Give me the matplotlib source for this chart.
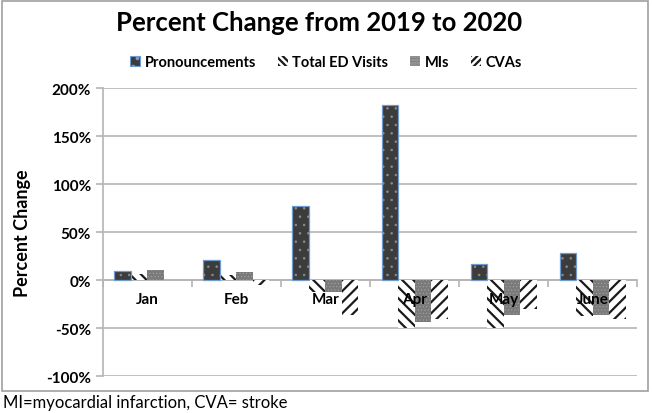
import matplotlib
matplotlib.use('Agg')
import matplotlib.pyplot as plt
from matplotlib.patches import Patch, Rectangle
import numpy as np

# Данные
months = ['Jan', 'Feb', 'Mar', 'Apr', 'May', 'June']
pronouncements = [10, 21, 77, 183, 17, 29]
ed_visits = [7, 6, -12, -50, -50, -37]
mis = [11, 9, -12, -43, -36, -36]
cvas = [0, -5, -36, -40, -30, -40]
yticks = [-100, -50, 0, 50, 100, 150, 200]

plt.rcParams['font.family'] = ['Lato', 'DejaVu Sans']
plt.rcParams['hatch.linewidth'] = 1.6

fig = plt.figure(figsize=(6.52, 4.14), dpi=100)
ax = fig.add_axes([0.1575, 0.0882, 0.820, 0.696])

x = np.arange(len(months))
w = 0.185
grid_c = '#b4b4b4'


def draw_series(offset, vals, fc, hc, hatch, hlw, edge=None):
    with plt.rc_context({'hatch.linewidth': hlw}):
        bars = ax.bar(x + offset * w, vals, w, color=fc, edgecolor=hc,
                      hatch=hatch, linewidth=0, zorder=3)
    for b in bars:
        if hasattr(b, 'set_hatch_linewidth'):
            b.set_hatch_linewidth(hlw)
    if edge:
        ax.bar(x + offset * w, vals, w, fill=False, edgecolor=edge,
               linewidth=0.9, zorder=4)


draw_series(-1.5, pronouncements, '#3c3c3c', '#8a8a8a', '..', 0.6, edge='#6f9bd1')
draw_series(-0.5, ed_visits, 'white', '#1a1a1a', '\\\\\\', 1.6)
draw_series(0.5, mis, '#7a7a7a', '#a5a5a5', '.....', 0.4)
draw_series(1.5, cvas, 'white', '#1a1a1a', '///', 1.6)

ax.set_xlim(-0.5, 5.5)
ax.set_ylim(-100, 200)
ax.set_yticks(yticks)
ax.set_yticklabels([f'{v}%' for v in yticks], fontsize=11, fontweight='bold')
ax.yaxis.grid(True, color=grid_c, linewidth=1.2, zorder=0)
ax.set_axisbelow(True)

ax.set_xticks(np.arange(-0.5, 6.0, 1.0))
ax.set_xticklabels([])
ax.spines['bottom'].set_position(('data', 0))
for s in ['top', 'right']:
    ax.spines[s].set_visible(False)
ax.spines['bottom'].set_color(grid_c)
ax.spines['bottom'].set_linewidth(1.2)
ax.spines['left'].set_color(grid_c)
ax.spines['left'].set_linewidth(1.2)
ax.tick_params(axis='both', colors=grid_c, length=5, width=1.2, labelcolor='black')

for i, m in enumerate(months):
    ax.text(i, -19, m, ha='center', va='center', fontsize=11,
            fontweight='bold', zorder=5)

ax.set_ylabel('Percent Change', fontsize=13, fontweight='bold', labelpad=11)

fig.text(0.49, 0.945, 'Percent Change from 2019 to 2020', ha='center',
         va='center', fontsize=18.5, fontweight='bold')

handles = [
    Patch(facecolor='#3c3c3c', edgecolor='#6f9bd1', hatch='..', linewidth=0.8),
    Patch(facecolor='white', edgecolor='#1a1a1a', hatch='\\\\\\\\\\', linewidth=0),
    Patch(facecolor='#7a7a7a', edgecolor='#a5a5a5', hatch='.....', linewidth=0),
    Patch(facecolor='white', edgecolor='#1a1a1a', hatch='/////', linewidth=0),
]
labels = ['Pronouncements', 'Total ED Visits', 'MIs', 'CVAs']
fig.legend(handles, labels, loc='center', bbox_to_anchor=(0.5, 0.848),
           ncol=4, frameon=False, prop={'weight': 'bold', 'size': 10.5},
           handlelength=0.7, handleheight=0.7, handletextpad=0.3,
           columnspacing=1.5)

fig.text(0.005, 0.026, 'MI=myocardial infarction, CVA= stroke',
         ha='left', va='center', fontsize=12)

fig.patches.append(Rectangle((0.003, 0.053), 0.991, 0.943,
                             transform=fig.transFigure, fill=False,
                             edgecolor='#a0a0a0', linewidth=1.2))

fig.savefig('out.png', dpi=100)
